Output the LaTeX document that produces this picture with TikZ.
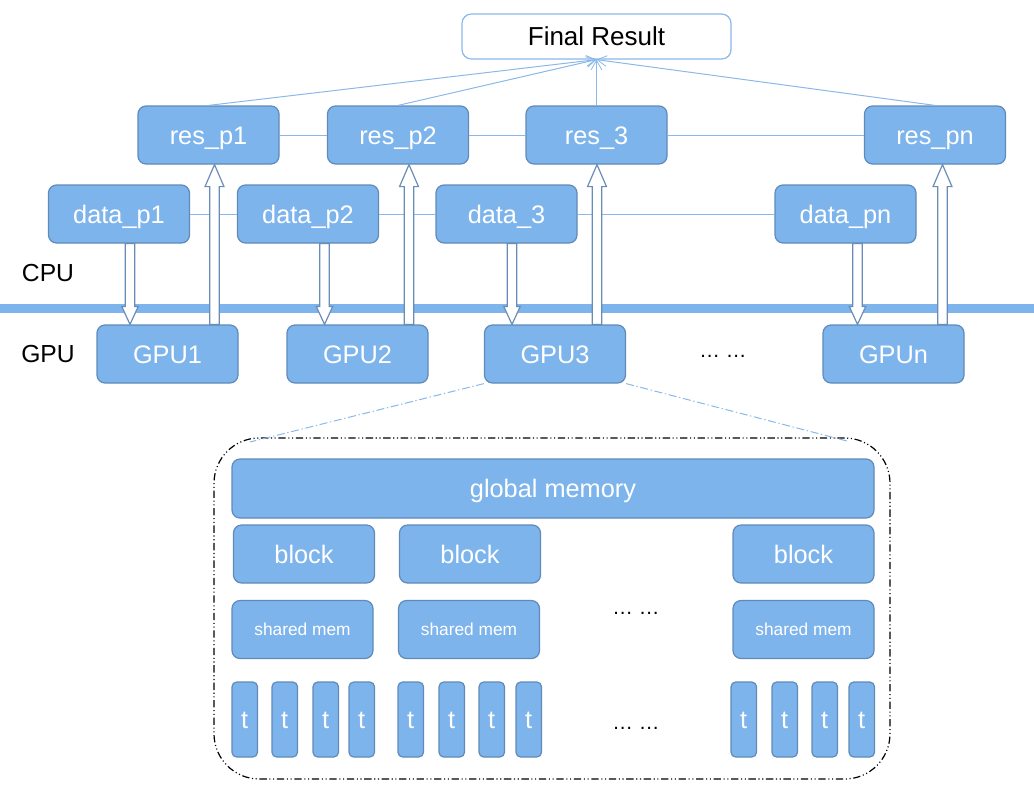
\documentclass[tikz,border=0pt]{standalone}
\usepackage{fontspec}
\setmainfont{Liberation Sans}
\usetikzlibrary{arrows.meta,calc}
\definecolor{bfill}{HTML}{7EB4EC}
\definecolor{bdraw}{HTML}{5F8AB9}
\definecolor{lineblue}{HTML}{8AB8E8}
\definecolor{arrdraw}{HTML}{6A8DB8}
\tikzset{
  bx/.style={draw=bdraw, fill=bfill, line width=0.9pt, rounded corners=6pt,
    text=white, font=\fontsize{19}{22}\selectfont, minimum width=105.75pt,
    minimum height=43.5pt, inner sep=0pt, text height=13.6pt, text depth=0pt},
  smallbx/.style={bx, font=\fontsize{13}{15}\selectfont, text height=9.4pt},
  tbx/.style={bx, minimum width=19.1pt, minimum height=56.25pt, rounded corners=3.5pt, text height=13pt},
  finalbx/.style={draw=lineblue, fill=white, line width=0.9pt, rounded corners=7pt,
    text=black, font=\fontsize{19.5}{22}\selectfont, minimum width=201.75pt,
    minimum height=33.75pt, inner sep=0pt, text height=14pt, text depth=0pt},
  lbl/.style={font=\fontsize{18.5}{21}\selectfont, inner sep=0pt, text height=13.2pt, text depth=0pt},
  dotsl/.style={font=\fontsize{15.5}{18}\selectfont, inner sep=0pt, anchor=base},
  conn/.style={draw=lineblue, line width=0.75pt},
  toresult/.style={draw=lineblue, line width=0.75pt, -{Straight Barb[length=7pt,width=8pt,line width=0.6pt]}},
  harr/.style={draw=arrdraw, fill=white, line width=0.9pt, line join=miter},
  zoomline/.style={draw=lineblue, line width=0.75pt, dash pattern=on 6pt off 2pt on 1pt off 2pt},
  gbox/.style={draw=black, line width=0.9pt, rounded corners=34pt, inner sep=0pt,
    dash pattern=on 5.5pt off 2pt on 0.8pt off 2pt on 0.8pt off 2pt}
}
\newcommand\downharr[3]{\draw[harr] let \p1=(#1,0 |- #2), \p2=(#1,0 |- #3) in
  (\x1-3.6pt,\y1) -- (\x1+3.6pt,\y1) -- (\x1+3.6pt,\y2+13.5pt) -- (\x1+6.2pt,\y2+13.5pt)
  -- (\x1,\y2) -- (\x1-6.2pt,\y2+13.5pt) -- (\x1-3.6pt,\y2+13.5pt) -- cycle;}
\newcommand\upharr[3]{\draw[harr] let \p1=(#1,0 |- #2), \p2=(#1,0 |- #3) in
  (\x1-3.6pt,\y1) -- (\x1+3.6pt,\y1) -- (\x1+3.6pt,\y2-16.5pt) -- (\x1+7.1pt,\y2-16.5pt)
  -- (\x1,\y2) -- (\x1-7.1pt,\y2-16.5pt) -- (\x1-3.6pt,\y2-16.5pt) -- cycle;}
\begin{document}
\begin{tikzpicture}[x=0.75pt,y=-0.75pt]
\useasboundingbox (0,0) rectangle (1034,786);
% bus bar
\fill[bfill] (0,304) rectangle (1034,313);
% final result
\node[finalbx] (fr) at (596.5,36.5) {Final Result};
% result row
\node[bx] (r1) at (208.5,135) {res\_p1};
\node[bx] (r2) at (398,135) {res\_p2};
\node[bx] (r3) at (596.5,135) {res\_3};
\node[bx] (rn) at (935,135) {res\_pn};
% data row
\node[bx] (d1) at (119,214) {data\_p1};
\node[bx] (d2) at (308,214) {data\_p2};
\node[bx] (d3) at (506.5,214) {data\_3};
\node[bx] (dn) at (845.5,214) {data\_pn};
% gpu row
\node[bx] (g1) at (167.5,354) {GPU1};
\node[bx] (g2) at (357.5,354) {GPU2};
\node[bx] (g3) at (555,354) {GPU3};
\node[bx] (gn) at (893.5,354) {GPUn};
\node[dotsl] (gdots) at (723,357) {… …};
% labels
\node[lbl] (cpul) at (48,273) {CPU};
\node[lbl] (gpul) at (48,354) {GPU};
% horizontal connectors
\draw[conn] (r1.east) -- (r2.west);
\draw[conn] (r2.east) -- (r3.west);
\draw[conn] (r3.east) -- (rn.west);
\draw[conn] (d1.east) -- (d2.west);
\draw[conn] (d2.east) -- (d3.west);
\draw[conn] (d3.east) -- (dn.west);
% to final result
\draw[toresult] (r1.north) -- (fr.south);
\draw[toresult] (r2.north) -- (fr.south);
\draw[toresult] (r3.north) -- (fr.south);
\draw[toresult] (rn.north) -- (fr.south);
% hollow arrows
\downharr{130}{d1.south}{g1.north}
\downharr{324.5}{d2.south}{g2.north}
\downharr{512}{d3.south}{g3.north}
\downharr{857.5}{dn.south}{gn.north}
\upharr{214.5}{g1.north}{r1.south}
\upharr{409}{g2.north}{r2.south}
\upharr{597}{g3.north}{r3.south}
\upharr{942.5}{gn.north}{rn.south}
% GPU detail box
\node[gbox, minimum width=507pt, minimum height=255.75pt] (gpubox) at (552,608.5) {};
\coordinate (zl) at (250,442);
\coordinate (zr) at (847,441);
\draw[zoomline] (g3.south west) -- (zl);
\draw[zoomline] (g3.south east) -- (zr);
\node[bx, minimum width=481.5pt, minimum height=44.25pt] (gm) at (553,488.5) {global memory};
\node[bx] (b1) at (304,554) {block};
\node[bx] (b2) at (470,554) {block};
\node[bx] (b3) at (803.5,554) {block};
\node[smallbx] (s1) at (302.5,629.5) {shared mem};
\node[smallbx] (s2) at (469,629.5) {shared mem};
\node[smallbx] (s3) at (803.5,629.5) {shared mem};
\node[dotsl] (sdots) at (636,614) {… …};
\node[dotsl] (tdots) at (636,729) {… …};
\foreach \i/\xx in {1/232,2/272,3/313,4/349,5/398,6/439,7/479,8/516,9/731,10/772,11/812,12/849}{
  \node[tbx] (t\i) at (\xx+12.75,719.5) {t};
}
\end{tikzpicture}
\end{document}
